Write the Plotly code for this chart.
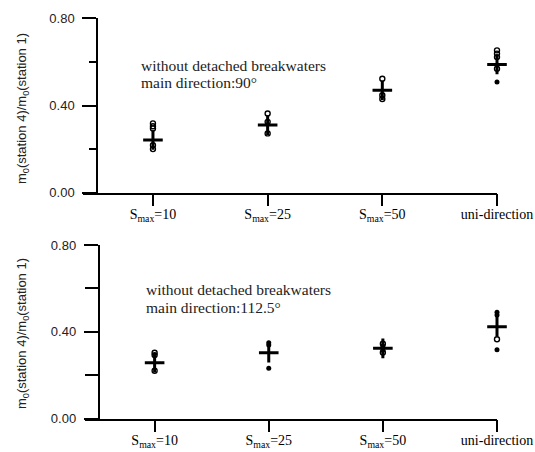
import plotly.graph_objects as go

categories = ["S<sub>max</sub>=10", "S<sub>max</sub>=25", "S<sub>max</sub>=50", "uni-direction"]
ytick_vals = [0.0, 0.4, 0.8]
ytick_text = ["0.00", "0.40", "0.80"]

# Top panel: main direction 90 deg
top_open_x = [0, 0, 0, 0, 0, 1, 1, 1, 2, 2, 2, 3, 3, 3, 3]
top_open_y = [0.318, 0.305, 0.295, 0.218, 0.200, 0.363, 0.325, 0.272, 0.523, 0.447, 0.430, 0.653, 0.638, 0.622, 0.569]
top_fill_x = [3]
top_fill_y = [0.508]
top_mean = [0.242, 0.310, 0.470, 0.588]

# Bottom panel: main direction 112.5 deg
bot_open_x = [0, 0, 0, 2, 2, 3]
bot_open_y = [0.304, 0.293, 0.221, 0.345, 0.305, 0.366]
bot_fill_x = [1, 1, 1, 2, 2, 3, 3, 3]
bot_fill_y = [0.350, 0.340, 0.232, 0.335, 0.315, 0.490, 0.478, 0.317]
bot_mean = [0.258, 0.304, 0.324, 0.424]

W, H = 535, 452
idx = list(range(len(categories)))

fig = go.Figure()

def add_panel(xa, ya, ox, oy, fx, fy, mean):
    fig.add_trace(go.Scatter(x=ox, y=oy, mode="markers", xaxis=xa, yaxis=ya, cliponaxis=False,
                             marker=dict(symbol="circle-open", size=5, color="black",
                                         line=dict(width=1.4, color="black")),
                             showlegend=False, hoverinfo="skip"))
    fig.add_trace(go.Scatter(x=fx, y=fy, mode="markers", xaxis=xa, yaxis=ya, cliponaxis=False,
                             marker=dict(symbol="circle", size=5, color="black"),
                             showlegend=False, hoverinfo="skip"))
    fig.add_trace(go.Scatter(x=idx, y=mean, mode="markers", xaxis=xa, yaxis=ya, cliponaxis=False,
                             marker=dict(symbol="cross-thin", size=14, color="black",
                                         line=dict(width=3, color="black")),
                             showlegend=False, hoverinfo="skip"))

add_panel("x", "y", top_open_x, top_open_y, top_fill_x, top_fill_y, top_mean)
add_panel("x2", "y2", bot_open_x, bot_open_y, bot_fill_x, bot_fill_y, bot_mean)

serif = "Liberation Serif"
sans = "Liberation Sans"

def xaxis_cfg(x0, x1, yanchor):
    return dict(domain=[x0 / W, x1 / W], anchor=yanchor, range=[-0.61, 3.0],
                automargin=False,
                tickmode="array", tickvals=idx, ticktext=categories,
                showline=True, linecolor="black", linewidth=1.5,
                ticks="outside", ticklen=12, tickwidth=1.5, tickcolor="black",
                ticklabelstandoff=-4,
                tickfont=dict(family=serif, size=14, color="black"),
                showgrid=False, zeroline=False)

def yaxis_cfg(ytop, ybot, xpos, minorlen):
    return dict(domain=[1 - ybot / H, 1 - ytop / H], anchor="free", position=xpos / W,
                range=[0, 0.8], automargin=False,
                tickmode="array", tickvals=ytick_vals, ticktext=ytick_text,
                showline=True, linecolor="black", linewidth=1.5,
                ticks="outside", ticklen=14, tickwidth=1.5, tickcolor="black",
                ticklabelstandoff=5,
                minor=dict(ticks="outside", ticklen=minorlen, tickwidth=1.5, tickcolor="black",
                           tickmode="array", tickvals=[0.2, 0.6]),
                tickfont=dict(family=sans, size=13, color="#222"),
                showgrid=False, zeroline=False)

fig.update_layout(
    template="none",
    width=W, height=H,
    margin=dict(l=0, r=0, t=0, b=0, autoexpand=False),
    paper_bgcolor="white", plot_bgcolor="white",
    xaxis=xaxis_cfg(83, 497, "y"),
    yaxis=yaxis_cfg(18.3, 192.7, 97, 7),
    xaxis2=xaxis_cfg(85, 497, "y2"),
    yaxis2=yaxis_cfg(245, 418.7, 98.5, 13),
)

ytitle = "m<sub>0</sub>(station 4)/m<sub>0</sub>(station 1)"
annotations = [
    dict(text=ytitle, x=22 / W, y=1 - 109 / H, textangle=-90),
    dict(text=ytitle, x=22 / W, y=1 - 334 / H, textangle=-90),
]
for a in annotations:
    a.update(xref="paper", yref="paper", showarrow=False, xanchor="center", yanchor="middle",
             font=dict(family=sans, size=13, color="#222"))

notes = [
    ("without detached breakwaters", 139, 65),
    ("main direction:90°", 139, 82.5),
    ("without detached breakwaters", 144, 289),
    ("main direction:112.5°", 144, 307),
]
for txt, px, py in notes:
    annotations.append(dict(text=txt, x=px / W, y=1 - py / H, xref="paper", yref="paper",
                            showarrow=False, xanchor="left", yanchor="middle", align="left",
                            font=dict(family=serif, size=15.5, color="#222")))
fig.update_layout(annotations=annotations)

fig.write_html("out.html")
